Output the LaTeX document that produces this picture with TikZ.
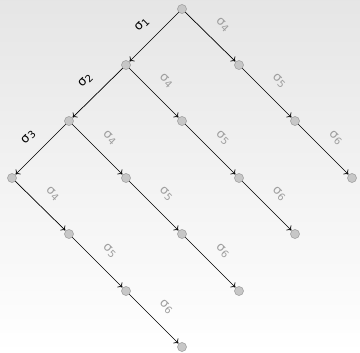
\documentclass[tikz,border=0pt]{standalone}
\usepackage{fontspec}
\setmainfont{DejaVu Sans}
\usetikzlibrary{arrows.meta}
\newcommand{\sg}[1]{σ\kern0.3pt{\fontsize{10}{10}\selectfont\raisebox{-2pt}{#1}}}
\begin{document}
\begin{tikzpicture}[x=1pt,y=-1pt,
  dot/.style={circle,fill=black!22,draw=black!40,line width=0.5pt,inner sep=0pt,minimum size=9pt},
  edge/.style={-{To[length=4pt,width=7pt]},line width=0.7pt,shorten >=0.3pt},
  lbl/.style={midway,font=\fontsize{12.5}{13}\selectfont,inner sep=0pt},
  lblL/.style={lbl,text=black,shift={(-12,-12)},rotate=45},
  lblR/.style={lbl,text=black!38,shift={(12,-12)},rotate=-45}]
\shade[top color=black!10,bottom color=white] (0,0) rectangle (360,353);
\useasboundingbox (0,0) rectangle (360,353);
\node[dot] (a) at (182,9) {};
\node[dot] (b1) at (126,65) {};
\node[dot] (b2) at (239,65) {};
\node[dot] (c1) at (69,121) {};
\node[dot] (c2) at (182,121) {};
\node[dot] (c3) at (295,121) {};
\node[dot] (d1) at (12,178) {};
\node[dot] (d2) at (126,178) {};
\node[dot] (d3) at (239,178) {};
\node[dot] (d4) at (352,178) {};
\node[dot] (e1) at (69,234) {};
\node[dot] (e2) at (182,234) {};
\node[dot] (e3) at (295,234) {};
\node[dot] (f1) at (126,291) {};
\node[dot] (f2) at (239,291) {};
\node[dot] (g1) at (182,347) {};
\draw[edge] (a) -- node[lblL] {\sg{1}} (b1);
\draw[edge] (a) -- node[lblR] {\sg{4}} (b2);
\draw[edge] (b1) -- node[lblL] {\sg{2}} (c1);
\draw[edge] (b1) -- node[lblR] {\sg{4}} (c2);
\draw[edge] (b2) -- node[lblR] {\sg{5}} (c3);
\draw[edge] (c1) -- node[lblL] {\sg{3}} (d1);
\draw[edge] (c1) -- node[lblR] {\sg{4}} (d2);
\draw[edge] (c2) -- node[lblR] {\sg{5}} (d3);
\draw[edge] (c3) -- node[lblR] {\sg{6}} (d4);
\draw[edge] (d1) -- node[lblR] {\sg{4}} (e1);
\draw[edge] (d2) -- node[lblR] {\sg{5}} (e2);
\draw[edge] (d3) -- node[lblR] {\sg{6}} (e3);
\draw[edge] (e1) -- node[lblR] {\sg{5}} (f1);
\draw[edge] (e2) -- node[lblR] {\sg{6}} (f2);
\draw[edge] (f1) -- node[lblR] {\sg{6}} (g1);
\end{tikzpicture}
\end{document}
